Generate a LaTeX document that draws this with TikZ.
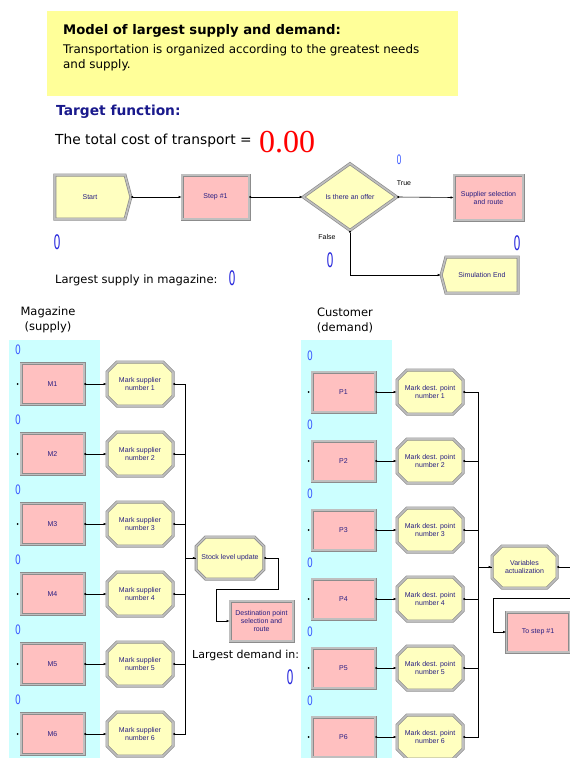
\documentclass[tikz,border=0pt]{standalone}
\usepackage{fontspec}
\setmainfont{DejaVu Sans}
\newfontfamily\numfont{Liberation Serif}
\newfontfamily\modfont{Liberation Sans}
\usetikzlibrary{shapes.geometric,shapes.misc,shapes.symbols,arrows.meta,positioning}

\definecolor{notefill}{RGB}{255,255,153}
\definecolor{modpink}{RGB}{255,192,192}
\definecolor{modyellow}{RGB}{255,255,192}
\definecolor{panelcyan}{RGB}{204,255,255}
\definecolor{modtext}{RGB}{40,30,130}
\definecolor{cntblue}{RGB}{60,90,255}
\definecolor{bigblue}{RGB}{40,40,220}
\definecolor{titleblue}{RGB}{25,25,140}

\tikzset{
	modframe/.style={draw=gray!90, double=gray!50, double distance=1.6pt, line width=0.7pt, text=modtext, font=\modfont\fontsize{7}{8}\selectfont, align=center, inner sep=1pt},
	procbox/.style={modframe, rectangle, fill=modpink, minimum width=63pt, minimum height=41pt},
	assignbox/.style={modframe, chamfered rectangle, chamfered rectangle xsep=5pt, chamfered rectangle ysep=5pt, fill=modyellow, minimum width=66pt, minimum height=44pt},
	conn/.style={line width=0.6pt, {Circle[length=2pt]}-{Latex[length=3pt,width=2.5pt]}},
	bus/.style={line width=0.6pt, {Circle[length=2pt]}-},
	feed/.style={line width=0.6pt, -{Latex[length=3pt,width=2.5pt]}},
	cnt/.style={text=cntblue, font=\fontsize{13}{13}\selectfont, inner sep=0pt},
	bigcnt/.style={text=bigblue, font=\fontsize{20}{20}\selectfont, inner sep=0pt},
	lbl/.style={font=\fontsize{11.5}{15}\selectfont, inner sep=0pt}
}

\begin{document}
\begin{tikzpicture}[x=1pt, y=-1pt]
	\useasboundingbox (0,0) rectangle (570,758);

	% backgrounds
	\fill[notefill] (47,11) rectangle (458,96);
	\fill[panelcyan] (9,340) rectangle (100,758);
	\fill[panelcyan] (301,340) rectangle (392,758);

	% note and target function
	\node[anchor=base west, font=\bfseries\fontsize{13.2}{16}\selectfont, inner sep=0pt] (ttl) at (63,34) {Model of largest supply and demand:};
	\node[anchor=base west, font=\fontsize{11.9}{14}\selectfont, inner sep=0pt] (dsc1) at (63,53) {Transportation is organized according to the greatest needs};
	\node[anchor=base west, font=\fontsize{11.9}{14}\selectfont, inner sep=0pt] (dsc2) at (63,68) {and supply.};
	\node[anchor=base west, font=\bfseries\fontsize{13.8}{16}\selectfont, text=titleblue, inner sep=0pt] (tgt) at (56,115) {Target function:};
	\node[anchor=base west, font=\fontsize{13.8}{16}\selectfont, inner sep=0pt] (cost) at (55,144) {The total cost of transport =};
	\node[anchor=base west, font=\numfont\fontsize{32}{32}\selectfont, text=red, inner sep=0pt] (costval) at (259,152) {0.00};

	% main flow
	\node[modframe, signal, signal to=east, signal pointer angle=150, fill=modyellow, minimum width=76pt, minimum height=44pt] (start) at (90,197) {Start};
	\node[procbox, minimum width=67pt, minimum height=44pt] (step) at (215.5,197) {Step \#1};
	\node[modframe, diamond, fill=modyellow, minimum width=94pt, minimum height=67pt, inner sep=0pt] (dec) at (350,197) {Is there an offer};
	\node[procbox, minimum width=69pt, minimum height=45pt] (supsel) at (488.5,197.5) {Supplier selection\\and route};
	\node[modframe, signal, signal to=west, signal pointer angle=150, fill=modyellow, minimum width=77pt, minimum height=36pt] (send) at (482,275) {Simulation End};

	\draw[conn] (start.east) -- (step.west);
	\draw[conn] (step.east) -- (dec.west);
	\draw[conn] (dec.east) -- (supsel.west);
	\draw[conn] (dec.south) |- (send.west);
	\node[font=\modfont\fontsize{7}{7}\selectfont, inner sep=0pt] (ltrue) at (404,183) {True};
	\node[font=\modfont\fontsize{7}{7}\selectfont, inner sep=0pt] (lfalse) at (327,237) {False};

	\node[cnt] (c0) at (399,160) {\scalebox{0.6}[1]{0}};
	\node[bigcnt] (c1) at (57,242) {\scalebox{0.55}[1]{0}};
	\node[bigcnt] (c2) at (517,243) {\scalebox{0.55}[1]{0}};
	\node[bigcnt] (c3) at (330,260) {\scalebox{0.55}[1]{0}};
	\node[lbl, anchor=base west] (lsup) at (55,283) {Largest supply in magazine:};
	\node[bigcnt] (c4) at (232,278) {\scalebox{0.55}[1]{0}};

	% magazine (supply)
	\node[lbl, align=center] (mag) at (48,320) {Magazine\\(supply)};
	\node[assignbox, minimum height=42pt] (stock) at (230,558) {Stock level update};
	\node[procbox, minimum height=40pt] (dest) at (261.5,621) {Destination point\\selection and\\route};
	\foreach \i/\y in {1/384,2/454,3/524,4/594,5/664,6/734}{
		\node[procbox] (m\i) at (52.5,\y) {M\i};
		\node[assignbox] (ms\i) at (140,\y) {Mark supplier\\number \i};
		\node[cnt] (mc\i) at (18,\y-34) {\scalebox{0.7}[1]{0}};
		\fill (m\i.west) ++(-3,0) circle (1);
		\draw[conn] (m\i.east) -- (ms\i.west);
		\draw[bus] (ms\i.east) -- ++(12,0) |- (stock.west);
	}
	\draw[feed] (185,558) -- (stock.west);
	\coordinate (sbend) at (216,589);
	\draw[bus] (stock.east) -- ++(14,0) |- (sbend);
	\draw[feed] (sbend) |- (dest.west);
	\node[lbl, font=\fontsize{11}{14}\selectfont, anchor=base west] (ldem) at (192,658) {Largest demand in:};
	\node[bigcnt] (c5) at (290,677) {\scalebox{0.55}[1]{0}};

	% customer (demand)
	\node[lbl, align=center] (cus) at (345,320) {Customer\\(demand)};
	\node[assignbox, minimum width=65pt, minimum height=42pt] (vars) at (524.5,567) {Variables\\actualization};
	\node[procbox, minimum height=40pt] (tostep) at (538,632) {To step \#1};
	\foreach \i/\y in {1/392,2/461,3/530,4/599,5/668,6/737}{
		\node[procbox, minimum height=40pt] (p\i) at (343.5,\y) {P\i};
		\node[assignbox] (pd\i) at (430,\y) {Mark dest. point\\number \i};
		\node[cnt] (pc\i) at (310,\y-36) {\scalebox{0.7}[1]{0}};
		\fill (p\i.west) ++(-3,0) circle (1);
		\draw[conn] (p\i.east) -- (pd\i.west);
		\draw[bus] (pd\i.east) -- ++(15,0) |- (vars.west);
	}
	\draw[feed] (478,567) -- (vars.west);
	\coordinate (vout) at (570,567);
	\coordinate (vin) at (570,598);
	\coordinate (vbend) at (493,598);
	\draw[bus] (vars.east) -- (vout);
	\draw[line width=0.6pt] (vin) -- (vbend);
	\draw[feed] (vbend) |- (tostep.west);
\end{tikzpicture}
\end{document}
